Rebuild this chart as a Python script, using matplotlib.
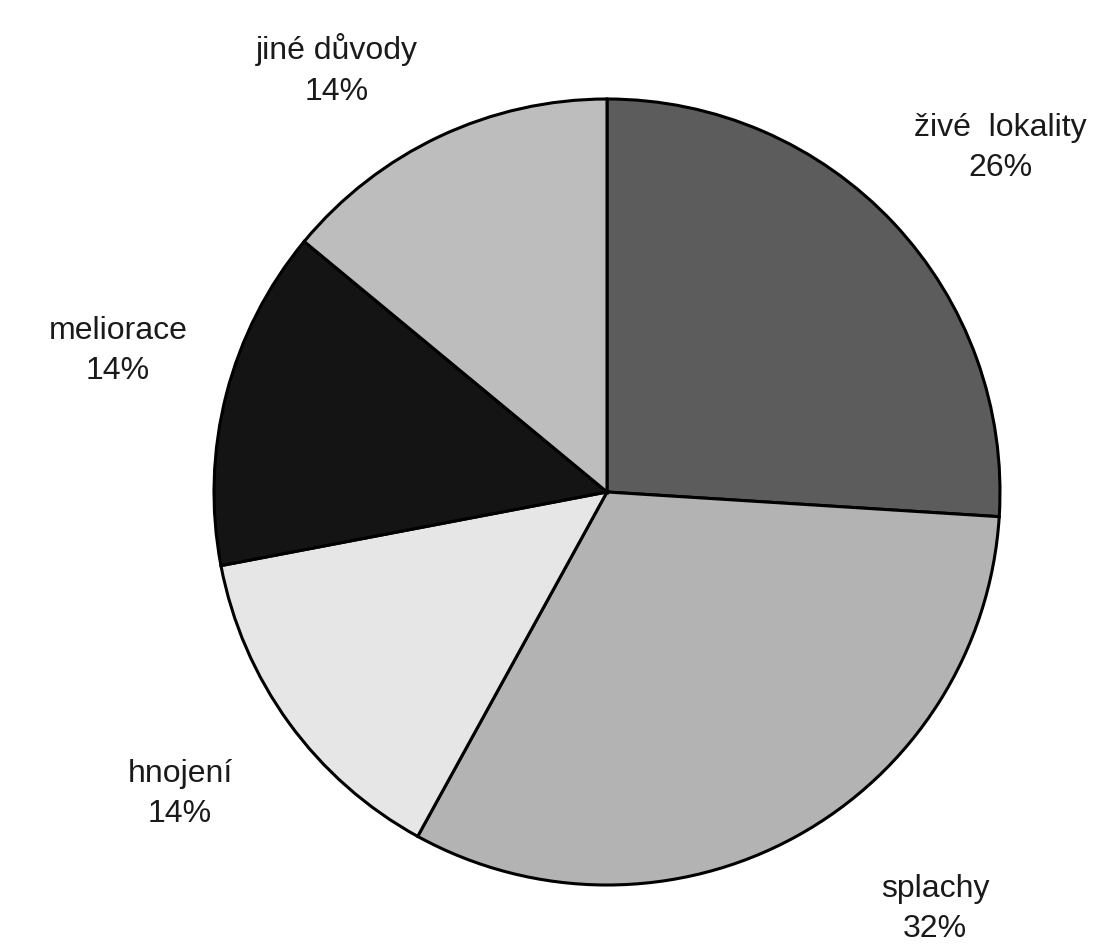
import numpy as np
import matplotlib
matplotlib.use("Agg")
from matplotlib import pyplot as plt

# podíly příčin
labels = ["živé  lokality", "splachy", "hnojení", "meliorace", "jiné důvody"]
values = [26, 32, 14, 14, 14]
colors = ["#5c5c5c", "#b3b3b3", "#e6e6e6", "#141414", "#bdbdbd"]

# umístění popisků (v pixelech obrázku)
label_pos = [(1000, 148), (935, 909), (180, 794), (118, 351), (337, 70)]

W, H = 1114, 948
fig = plt.figure(figsize=(W / 100, H / 100), dpi=100)
ax = fig.add_axes([0, 0, 1, 1])
ax.set_xlim(0, W)
ax.set_ylim(0, H)
ax.set_aspect("equal")
ax.axis("off")

cx, cy, r = 607, H - 492, 393
wedges, _ = ax.pie(values, colors=colors, startangle=90, counterclock=False,
                   center=(cx, cy), radius=r, frame=True,
                   wedgeprops=dict(edgecolor="black", linewidth=2.2))
ax.set_xlim(0, W)
ax.set_ylim(0, H)
ax.axis("off")

for lab, v, (x, y) in zip(labels, values, label_pos):
    ax.text(x, H - y, lab + "\n" + str(v) + "%", ha="center", va="center",
            fontsize=23, family="Liberation Sans", color="#1a1a1a",
            linespacing=1.45)

fig.savefig("out.png", dpi=100, facecolor="white")
